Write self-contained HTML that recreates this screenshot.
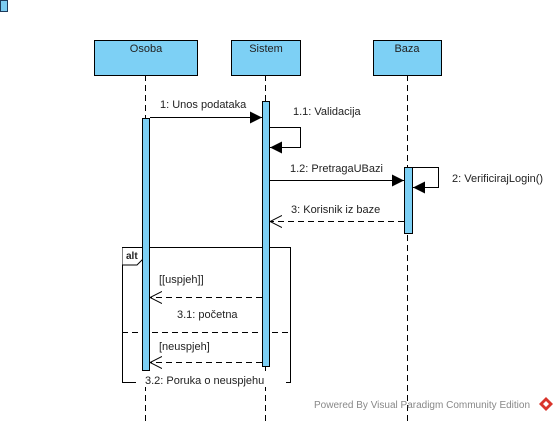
<!DOCTYPE html>
<html><head><style>body{margin:0;background:#fff}svg{display:block}text{font-family:"Liberation Sans",sans-serif;font-size:11px;fill:#222}</style></head>
<body>
<svg width="558" height="421" viewBox="0 0 558 421" xmlns="http://www.w3.org/2000/svg">
<defs>
<marker id="f" markerWidth="13" markerHeight="12" refX="12" refY="6" orient="auto" markerUnits="userSpaceOnUse"><path d="M0,0 L12,6 L0,12 Z" fill="#000"/></marker>
<marker id="o" markerWidth="13" markerHeight="14" refX="12" refY="7" orient="auto" markerUnits="userSpaceOnUse"><path d="M0,1 L12,7 L0,13" fill="none" stroke="#000"/></marker>
</defs>
<rect x="0.5" y="0.5" width="7" height="11" fill="#7ccbf0" stroke="#1e3a5a"/>
<g stroke="#000" stroke-dasharray="6,4">
<line x1="145.5" y1="75" x2="145.5" y2="421"/>
<line x1="265.5" y1="75" x2="265.5" y2="421"/>
<line x1="407.5" y1="75" x2="407.5" y2="421"/>
</g>
<g fill="#7dd0f5" stroke="#000">
<rect x="94.5" y="40.5" width="103" height="35"/>
<rect x="231.5" y="40.5" width="69" height="35"/>
<rect x="373.5" y="40.5" width="68" height="35"/>
</g>
<text x="146" y="52" text-anchor="middle">Osoba</text>
<text x="266" y="52" text-anchor="middle">Sistem</text>
<text x="407" y="52" text-anchor="middle">Baza</text>
<rect x="122.5" y="247.5" width="168" height="135" fill="none" stroke="#000"/>
<path d="M122.5,247.5 H143 V259 L137,265 H122.5" fill="#fff" stroke="#000"/>
<text x="126" y="259" style="font-weight:bold;font-size:10px">alt</text>
<line x1="122" y1="332.5" x2="290" y2="332.5" stroke="#000" stroke-dasharray="6,4"/>
<g fill="#7dd0f5" stroke="#000">
<rect x="142.5" y="118.5" width="7" height="252"/>
<rect x="262.5" y="101.5" width="7" height="265"/>
<rect x="404.5" y="167.5" width="8" height="66"/>
</g>
<rect x="136" y="373" width="150" height="14" fill="#fff"/>
<g stroke="#000" fill="none">
<line x1="150" y1="117.5" x2="262" y2="117.5" marker-end="url(#f)"/>
<path d="M270,127.5 H300.5 V147.5 H270" marker-end="url(#f)"/>
<line x1="270" y1="180.5" x2="404" y2="180.5" marker-end="url(#f)"/>
<path d="M413,167.5 H438.5 V187.5 H413" marker-end="url(#f)"/>
<line x1="404" y1="221.5" x2="270" y2="221.5" stroke-dasharray="6,4" marker-end="url(#o)"/>
<line x1="262" y1="297.5" x2="150" y2="297.5" stroke-dasharray="6,4" marker-end="url(#o)"/>
<line x1="262" y1="362.5" x2="150" y2="362.5" stroke-dasharray="6,4" marker-end="url(#o)"/>
</g>
<text x="160" y="108">1: Unos podataka</text>
<text x="293" y="115">1.1: Validacija</text>
<text x="290" y="172">1.2: PretragaUBazi</text>
<text x="452" y="182">2: VerificirajLogin()</text>
<text x="291" y="213">3: Korisnik iz baze</text>
<text x="159" y="283">[[uspjeh]]</text>
<text x="177" y="318">3.1: početna</text>
<text x="159" y="350">[neuspjeh]</text>
<text x="145" y="384">3.2: Poruka o neuspjehu</text>
<text x="314" y="408" style="fill:#888;font-size:10px">Powered By Visual Paradigm Community Edition</text>
<path d="M546,397 L553,404 L546,411 L539,404 Z" fill="#d9342b"/>
<path d="M546,401 L549,404 L546,407 L543,404 Z" fill="#fff"/>
</svg>
</body></html>
